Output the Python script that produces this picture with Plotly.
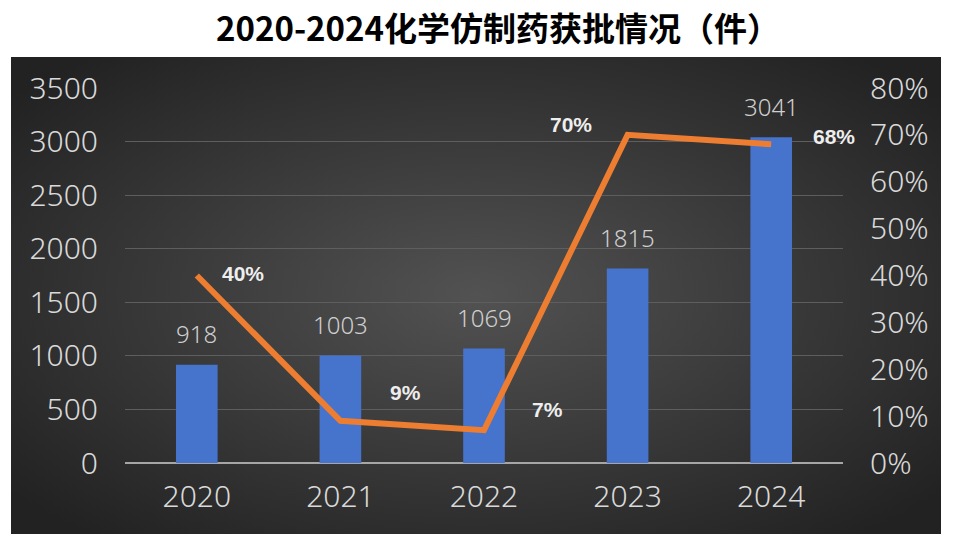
import base64
import plotly.graph_objects as go

years = ["2020", "2021", "2022", "2023", "2024"]
approvals = [918, 1003, 1069, 1815, 3041]
rate = [0.40, 0.09, 0.07, 0.70, 0.68]
rate_labels = ["40%", "9%", "7%", "70%", "68%"]
title_text = "2020-2024化学仿制药获批情况（件）"

# label offsets (pixels) for the growth-rate labels
rate_offsets = [(46, 2), (65, 28), (63, 21), (-57, 10), (63, 8)]

svg = """<svg xmlns='http://www.w3.org/2000/svg' width='930' height='477' viewBox='0 0 930 477'>
<defs><radialGradient id='g' cx='50%' cy='50%' r='65%'>
<stop offset='0%' stop-color='#525252'/><stop offset='100%' stop-color='#222222'/>
</radialGradient></defs>
<rect width='930' height='477' fill='url(#g)'/></svg>"""
src = "data:image/svg+xml;base64," + base64.b64encode(svg.encode()).decode()

L, R, T, B = 125, 111, 88, 86
W, H = 954, 549
pw, ph = W - L - R, H - T - B


def px(x):
    return (x - L) / pw


def py(y):
    return (H - B - y) / ph


tick_font = dict(family="Noto Sans, Liberation Sans, sans-serif", size=30, color="#d9d9d9", weight=300)

idx = list(range(len(years)))

fig = go.Figure()
fig.add_trace(go.Bar(x=idx, y=approvals, width=0.29,
                     marker=dict(color="#4673cc", line=dict(width=0)),
                     showlegend=False, hoverinfo="skip"))
fig.add_trace(go.Scatter(x=idx, y=rate, yaxis="y2", mode="lines",
                         line=dict(color="#ED7D31", width=6),
                         showlegend=False, hoverinfo="skip"))

ann = []
for i, v in zip(idx, approvals):
    ann.append(dict(x=i, y=v, xref="x", yref="y", text=str(v), showarrow=False,
                    yanchor="middle", yshift=31,
                    font=dict(family="Noto Sans, Liberation Sans, sans-serif", size=24,
                              color="#cfcfcf", weight=300)))
for i, v, t, (dx, dy) in zip(idx, rate, rate_labels, rate_offsets):
    ann.append(dict(x=i, y=v, xref="x", yref="y2", text=t, showarrow=False,
                    xshift=dx, yshift=dy, yanchor="middle", xanchor="center",
                    font=dict(family="Liberation Sans, Arial, sans-serif", size=21,
                              color="#eeeeee", weight="bold")))
ann.append(dict(x=px(498), y=py(27), xref="paper", yref="paper", text=title_text,
                showarrow=False, xanchor="center", yanchor="middle",
                font=dict(family="Noto Sans CJK SC, sans-serif", size=33, color="#000000",
                          weight="bold")))

fig.update_layout(
    width=W, height=H,
    margin=dict(l=L, r=R, t=T, b=B),
    paper_bgcolor="white", plot_bgcolor="rgba(0,0,0,0)",
    annotations=ann,
    images=[dict(source=src, xref="paper", yref="paper",
                 x=px(11), y=py(57), sizex=px(941) - px(11), sizey=py(57) - py(534),
                 xanchor="left", yanchor="top", sizing="stretch", layer="below")],
    xaxis=dict(range=[-0.5, 4.5], tickvals=idx, ticktext=years, tickfont=tick_font,
               showgrid=False, ticks="", showline=False, zeroline=False, ticklabelstandoff=13),
    yaxis=dict(range=[0, 3500], dtick=500, tickfont=tick_font, gridcolor="#5e5e5e",
               gridwidth=1, zeroline=True, zerolinecolor="#a6a6a6", zerolinewidth=2,
               ticks="", ticklabelstandoff=26, showline=False),
    yaxis2=dict(range=[0, 0.8], dtick=0.1, tickformat=".0%", overlaying="y", side="right",
                tickfont=tick_font, showgrid=False, zeroline=False, ticks="",
                ticklabelstandoff=26, showline=False),
)

fig.write_html("out.html")
